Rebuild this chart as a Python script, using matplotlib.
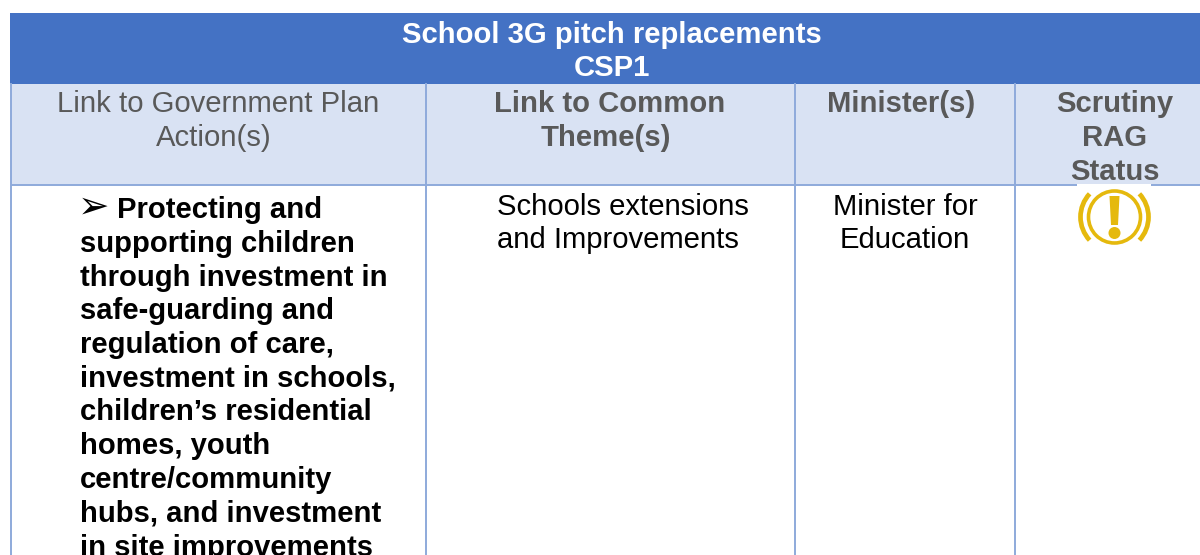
import matplotlib
matplotlib.use("Agg")
import matplotlib.pyplot as plt
from matplotlib.patches import Rectangle, Circle, Arc, Polygon

title_lines = ["School 3G pitch replacements", "CSP1"]
header_labels = [["Link to Government Plan", "Action(s)"],
                 ["Link to Common", "Theme(s)"],
                 ["Minister(s)"],
                 ["Scrutiny", "RAG", "Status"]]
theme_lines = ["Schools extensions", "and Improvements"]
minister_lines = ["Minister for", "Education"]
action_lines = ["Protecting and", "supporting children", "through investment in",
                "safe-guarding and", "regulation of care,", "investment in schools,",
                "children\u2019s residential", "homes, youth", "centre/community",
                "hubs, and investment", "in site improvements"]

BLUE = "#4472C4"; LIGHT = "#D9E2F3"; LINE = "#8EAADB"; GREY = "#595959"; AMBER = "#E5B90D"
FONT = ["Liberation Sans", "DejaVu Sans"]
FS = 21.1

fig = plt.figure(figsize=(12, 5.55), dpi=100)
ax = fig.add_axes([0, 0, 1, 1])
ax.set_xlim(0, 1200); ax.set_ylim(555, 0); ax.axis("off")

col_edges = [11, 426, 795, 1015, 1200]
ax.add_patch(Rectangle((10, 13), 1190, 71, fc=BLUE, ec="none", zorder=1))
ax.add_patch(Rectangle((11, 84), 1189, 101, fc=LIGHT, ec="none", zorder=1))
for x in col_edges[:-1]:
    ax.plot([x, x], [83, 555], color=LINE, lw=1.4, zorder=2, solid_capstyle="butt")
ax.plot([11, 1200], [185, 185], color=LINE, lw=1.4, zorder=2, solid_capstyle="butt")

def t(x, y, s, **kw):
    kw.setdefault("family", FONT)
    kw.setdefault("fontsize", FS)
    kw.setdefault("va", "baseline")
    ax.text(x, y, s, zorder=5, **kw)

for i, line in enumerate(title_lines):
    t(612, 43 + i * 33.4, line, color="white", fontweight="bold", ha="center")

t(218, 112, header_labels[0][0], color=GREY, ha="center")
t(214, 146, header_labels[0][1], color=GREY, ha="center")
t(610, 112, header_labels[1][0], color=GREY, ha="center", fontweight="bold")
t(606, 146, header_labels[1][1], color=GREY, ha="center", fontweight="bold")
t(901, 112, header_labels[2][0], color=GREY, ha="center", fontweight="bold")
for i, line in enumerate(header_labels[3]):
    t(1115, 112.5 + i * 33.7, line, color=GREY, ha="center", fontweight="bold")

ax.add_patch(Rectangle((1077, 184), 74, 2.5, fc="white", ec="none", zorder=3))

t(78, 218, "\u27A2", color="black", family="DejaVu Sans", fontsize=27)
t(117, 218, action_lines[0], color="black", fontweight="bold")
for i, line in enumerate(action_lines[1:], start=1):
    t(80, 218 + i * 33.75, line, color="black", fontweight="bold")

for i, line in enumerate(theme_lines):
    t(497, 215 + i * 33, line, color="black")
for i, line in enumerate(minister_lines):
    t(905, 215 + i * 33, line, color="black", ha="center")

# warning icon
cx, cy = 1114.5, 217
ax.add_patch(Circle((cx, cy), 26, fc="none", ec=AMBER, lw=2.6, zorder=4))
ax.add_patch(Arc((cx, cy), 68, 68, theta1=137, theta2=223, color=AMBER, lw=3.4, zorder=4))
ax.add_patch(Arc((cx, cy), 68, 68, theta1=-43, theta2=43, color=AMBER, lw=3.4, zorder=4))
ax.add_patch(Polygon([(cx - 5, 196), (cx + 5, 196), (cx + 3.5, 225), (cx - 3.5, 225)], fc=AMBER, ec="none", zorder=4))
ax.add_patch(Circle((cx, 233), 6, fc=AMBER, ec="none", zorder=4))

fig.savefig("out.png", dpi=100)
